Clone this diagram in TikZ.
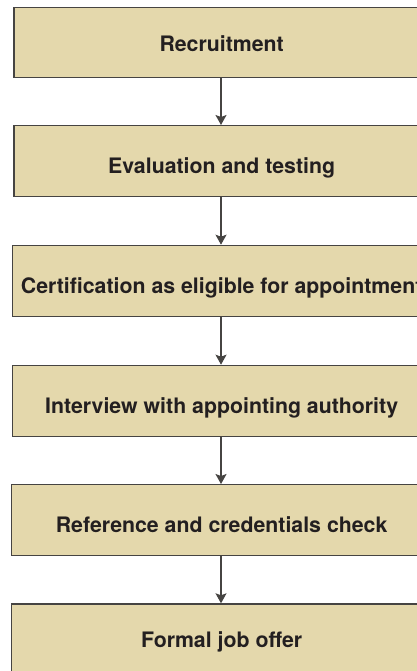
\documentclass[tikz,border=0pt]{standalone}
\usepackage{fontspec}
\setmainfont{TeX Gyre Heros}
\usetikzlibrary{arrows.meta}
\definecolor{boxfill}{RGB}{228,216,172}
\definecolor{boxline}{RGB}{70,68,66}
\definecolor{txt}{RGB}{35,31,32}
\begin{document}
\begin{tikzpicture}[x=1pt,y=-1pt,
  stepbox/.style={draw=boxline, line width=1.3pt, fill=boxfill, rectangle, inner sep=0pt,
    minimum width=420pt, minimum height=71pt, anchor=north west, text depth=0pt,
    font=\fontsize{21.3}{26}\selectfont\bfseries, text=txt},
  bl/.style={text height=#1},
  flow/.style={draw=boxline, line width=1.2pt, -{Stealth[length=10pt,width=11pt,inset=2pt]}}]
\useasboundingbox (0,0) rectangle (417,671);
\clip (0,0) rectangle (417,671);
\node[stepbox, minimum width=415.4pt, minimum height=70pt, bl=19pt] (b1) at (13.3,6.7) {Recruitment};
\node[stepbox, minimum width=415.4pt, bl=25.6pt] (b2) at (13.3,125) {Evaluation and testing};
\node[stepbox, minimum width=418.6pt, bl=26.2pt] (b3) at (11.7,244.7) {Certification as eligible for appointment};
\node[stepbox, minimum width=418.6pt, bl=25.6pt] (b4) at (11.7,364.7) {Interview with appointing authority};
\node[stepbox, bl=24.4pt] (b5) at (11,484) {Reference and credentials check};
\node[stepbox, bl=15.8pt] (b6) at (11,603.3) {Formal job offer};
\foreach \a/\b in {b1/b2,b2/b3,b3/b4,b4/b5,b5/b6}{
  \draw[flow] (221,0 |- \a.south) -- (221,0 |- \b.north);
}
\end{tikzpicture}
\end{document}
